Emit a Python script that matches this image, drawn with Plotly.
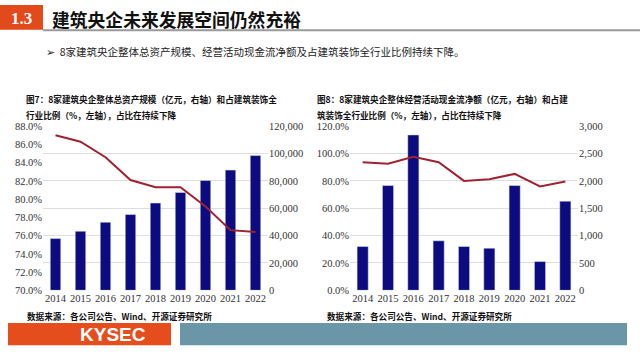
import plotly.graph_objects as go

W, H = 640, 360

years = ["2014", "2015", "2016", "2017", "2018", "2019", "2020", "2021", "2022"]

# Chart 7: total assets (亿元, right axis) and share of industry (%, left axis)
assets = [37800, 43200, 49800, 55400, 63800, 71600, 80300, 87900, 98500]
assets_share = [87.0, 86.3, 84.6, 82.1, 81.3, 81.3, 79.2, 76.6, 76.4]

# Chart 8: operating cash flow (亿元, right axis) and share of industry (%, left axis)
cashflow = [800, 1915, 2840, 905, 800, 770, 1915, 525, 1630]
cash_share = [93.6, 92.5, 97.6, 93.6, 80.0, 81.2, 85.1, 76.0, 79.5]

left_ticks_1 = [70, 72, 74, 76, 78, 80, 82, 84, 86, 88]
right_ticks_1 = [0, 20000, 40000, 60000, 80000, 100000, 120000]
left_ticks_2 = [0, 20, 40, 60, 80, 100, 120]
right_ticks_2 = [0, 500, 1000, 1500, 2000, 2500, 3000]

BAR = "#0c0c80"
LINE = "#a0222e"
ORANGE = "#e24a1c"
SERIF = "Liberation Serif, Times New Roman, serif"
CJK = "Noto Sans CJK SC, sans-serif"


def px(x):
    return x / W


def py(y):
    return 1 - y / H


def pct_labels(vals):
    return [f"{v:.1f}%" for v in vals]


def num_labels(vals):
    return [f"{v:,d}" for v in vals]


fig = go.Figure()

# bars on base (right-side) axes, lines on overlay (left-side) axes
fig.add_trace(go.Bar(x=years, y=assets, marker_color=BAR, width=0.42,
                     xaxis="x", yaxis="y", showlegend=False))
fig.add_trace(go.Scatter(x=years, y=assets_share, mode="lines",
                         line=dict(color=LINE, width=2),
                         xaxis="x", yaxis="y2", showlegend=False))
fig.add_trace(go.Bar(x=years, y=cashflow, marker_color=BAR, width=0.44,
                     xaxis="x2", yaxis="y3", showlegend=False))
fig.add_trace(go.Scatter(x=years, y=cash_share, mode="lines",
                         line=dict(color=LINE, width=2),
                         xaxis="x2", yaxis="y4", showlegend=False))

ydom = [py(294.3), py(125)]
tickfont = dict(family=SERIF, size=10.5, color="#333333")

fig.update_layout(
    width=W, height=H,
    margin=dict(l=0, r=0, t=0, b=0),
    paper_bgcolor="white", plot_bgcolor="rgba(0,0,0,0)",
    xaxis=dict(domain=[px(43), px(268)], anchor="y", type="category",
               showgrid=False, showline=False, ticks="", tickfont=tickfont),
    yaxis=dict(domain=ydom, anchor="x", side="right", range=[0, 120000],
               tickmode="array", tickvals=right_ticks_1,
               ticktext=num_labels(right_ticks_1), showgrid=True,
               gridcolor="#dedede", gridwidth=1, zeroline=False,
               showline=False, ticks="", tickfont=tickfont),
    yaxis2=dict(overlaying="y", anchor="x", side="left", range=[70, 88],
                tickmode="array", tickvals=left_ticks_1,
                ticktext=pct_labels(left_ticks_1),
                showgrid=False, zeroline=False, showline=False, ticks="",
                tickfont=tickfont),
    xaxis2=dict(domain=[px(350), px(578)], anchor="y3", type="category",
                showgrid=False, showline=False, ticks="", tickfont=tickfont),
    yaxis3=dict(domain=ydom, anchor="x2", side="right", range=[0, 3000],
                tickmode="array", tickvals=right_ticks_2,
                ticktext=num_labels(right_ticks_2), showgrid=True,
                gridcolor="#dedede", gridwidth=1, zeroline=False,
                showline=False, ticks="", tickfont=tickfont),
    yaxis4=dict(overlaying="y3", anchor="x2", side="left", range=[0, 120],
                tickmode="array", tickvals=left_ticks_2,
                ticktext=pct_labels(left_ticks_2),
                showgrid=False, zeroline=False, showline=False, ticks="",
                tickfont=tickfont),
)

shapes = [
    # header orange block
    dict(type="rect", xref="paper", yref="paper", x0=px(0), x1=px(43),
         y0=py(25.5), y1=py(0), fillcolor=ORANGE, line_width=0),
    # header underline
    dict(type="rect", xref="paper", yref="paper", x0=px(43), x1=px(640),
         y0=py(27), y1=py(25), fillcolor="#9a9a9a", line_width=0),
    # footer bars
    dict(type="rect", xref="paper", yref="paper", x0=px(8), x1=px(171),
         y0=py(351), y1=py(328), fillcolor="#e54d1d", line_width=0),
    dict(type="rect", xref="paper", yref="paper", x0=px(180), x1=px(627),
         y0=py(351), y1=py(328), fillcolor="#6a96a8", line_width=0),
]
fig.update_layout(shapes=shapes)


def txt(x, y, s, size, color="#111111", bold=False, family=CJK, anchor="left"):
    if bold:
        s = "<b>" + s + "</b>"
    fig.add_annotation(xref="paper", yref="paper", x=px(x), y=py(y), text=s,
                       showarrow=False, xanchor=anchor, yanchor="middle",
                       font=dict(family=family, size=size, color=color))


txt(21.5, 13.5, "1.3", 17, color="white", bold=True, family=SERIF, anchor="center")
txt(50, 14, "建筑央企未来发展空间仍然充裕", 17.8, color="#111111", bold=True)
txt(44, 48, "➢  8家建筑央企整体总资产规模、经营活动现金流净额及占建筑装饰全行业比例持续下降。", 10.5,
    color="#222222")

txt(24, 97, "图7：8家建筑央企整体总资产规模（亿元，右轴）和占建筑装饰全", 8.6, bold=True)
txt(24, 113, "行业比例（%，左轴），占比在持续下降", 8.6, bold=True)
txt(315, 97, "图8：8家建筑央企整体经营活动现金流净额（亿元，右轴）和占建", 8.6, bold=True)
txt(315, 113, "筑装饰全行业比例（%，左轴），占比在持续下降", 8.6, bold=True)

txt(25, 321, "数据来源：各公司公告、Wind、开源证券研究所", 8.6, bold=True)
txt(325, 321, "数据来源：各公司公告、Wind、开源证券研究所", 8.6, bold=True)

txt(113, 340, "KYSEC", 19, color="white", bold=True,
    family="Liberation Sans, Arial, sans-serif", anchor="center")

fig.write_html("out.html", config={"displayModeBar": False},
               post_script="document.body.style.margin='0';document.body.style.overflow='hidden';")
